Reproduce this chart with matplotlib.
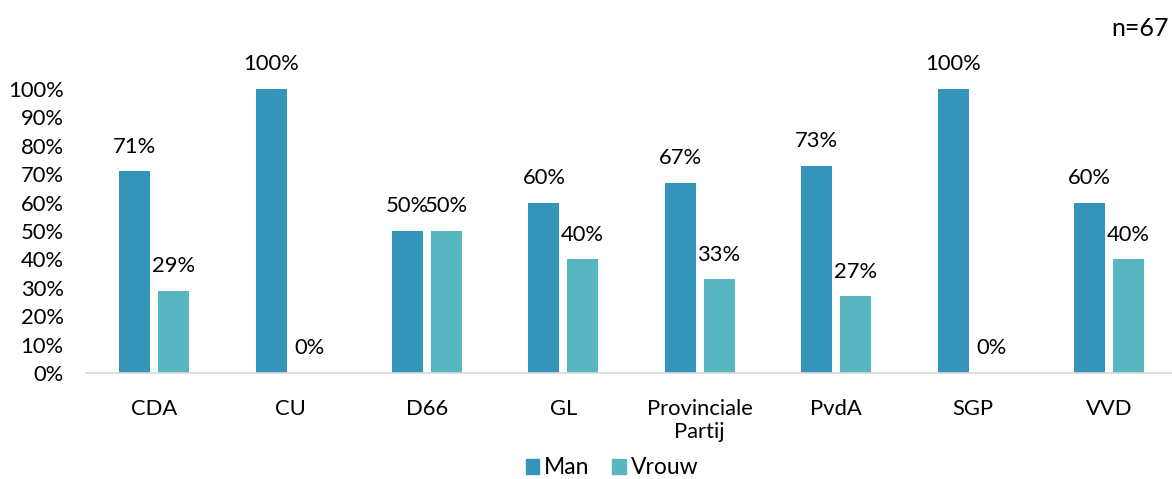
import matplotlib.pyplot as plt
import numpy as np
from matplotlib.patches import Patch

plt.rcParams["font.family"] = ["Lato", "DejaVu Sans"]

parties = ["CDA", "CU", "D66", "GL", "Provinciale\nPartij", "PvdA", "SGP", "VVD"]
man = [71, 100, 50, 60, 67, 73, 100, 60]
vrouw = [29, 0, 50, 40, 33, 27, 0, 40]

MAN_COLOR = "#3494BA"
VROUW_COLOR = "#58B6C0"
FONT_SIZE = 15.8


def add_labels(ax, positions, values):
    for x, v in zip(positions, values):
        ax.annotate(f"{v}%", xy=(x, v / 100), xytext=(0, 13.5), textcoords="offset points",
                    ha="center", va="baseline", fontsize=FONT_SIZE, color="#000000")


def main() -> None:
    fig = plt.figure(figsize=(11.72, 4.79), dpi=100)
    ax = fig.add_axes([86 / 1172, (479 - 373) / 479, (1177 - 86) / 1172, 284 / 479])

    x = np.arange(len(parties))
    width = 0.227
    offset = 0.142
    ax.bar(x - offset, np.array(man) / 100, width, color=MAN_COLOR, label="Man")
    ax.bar(x + offset, np.array(vrouw) / 100, width, color=VROUW_COLOR, label="Vrouw")
    add_labels(ax, x - offset, man)
    add_labels(ax, x + offset, vrouw)

    ax.set_xlim(-0.5, len(parties) - 0.5)
    ax.set_ylim(0, 1.0)
    ax.set_yticks(np.arange(0, 1.01, 0.1))
    ax.set_yticklabels([f"{int(round(t * 100))}%" for t in np.arange(0, 1.01, 0.1)])
    ax.set_xticks(x)
    ax.set_xticklabels(parties, linespacing=1.15)

    for side in ("top", "right", "left"):
        ax.spines[side].set_visible(False)
    ax.spines["bottom"].set_color("#D9D9D9")
    ax.spines["bottom"].set_linewidth(1.2)
    ax.tick_params(axis="both", length=0, labelsize=FONT_SIZE, colors="#000000")
    ax.tick_params(axis="y", pad=16)
    ax.tick_params(axis="x", pad=19)

    handles = [Patch(color=MAN_COLOR), Patch(color=VROUW_COLOR)]
    fig.legend(handles, ["Man", "Vrouw"], loc="center", bbox_to_anchor=(612 / 1172, 1 - 468 / 479),
               ncol=2, frameon=False, fontsize=16.5, handlelength=0.6, handleheight=0.6,
               handletextpad=0.2, columnspacing=1.0)

    fig.text(1169 / 1172, 1 - 28 / 479, "n=67", ha="right", va="center", fontsize=18)

    fig.savefig("out.png", dpi=100)
    plt.close(fig)


if __name__ == "__main__":
    main()
